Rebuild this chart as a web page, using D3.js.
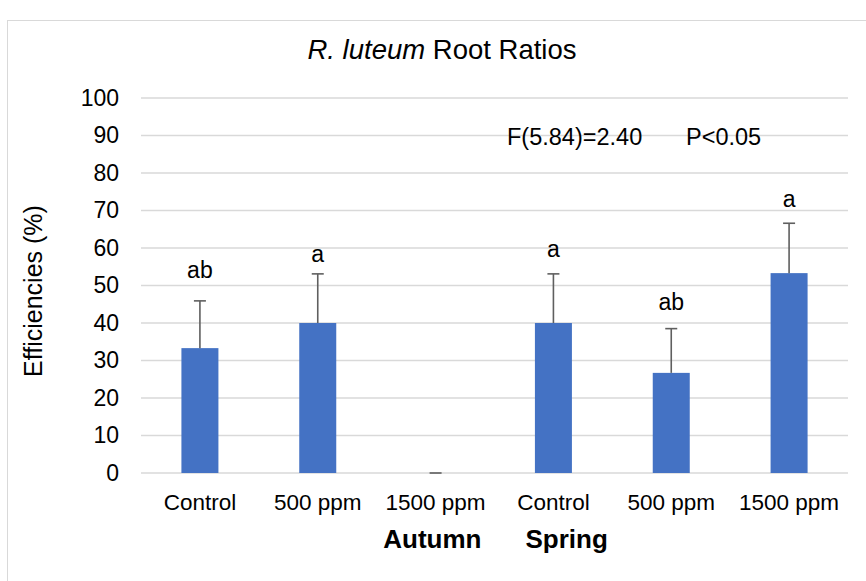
<!DOCTYPE html>
<html>
<head>
<meta charset="utf-8">
<script src="https://cdn.jsdelivr.net/npm/d3@7"></script>
<style>
  body { margin: 0; background: #fff; }
  text { font-family: "Liberation Sans", Arial, sans-serif; fill: #000; }
</style>
</head>
<body>
<div id="chart"></div>
<script>
// values
const categories = ["Control", "500 ppm", "1500 ppm", "Control", "500 ppm", "1500 ppm"];
const values = [33.3, 40, 0, 40, 26.7, 53.3];
const errors = [12.6, 13.1, 0, 13.1, 11.8, 13.3];
const letters = ["ab", "a", "", "a", "ab", "a"];
const letterLevels = [52.1, 56.3, 0, 57.5, 43.5, 70.9]; // baseline of letters, in % units
const yTicks = d3.range(0, 101, 10);
const groupLabels = ["Autumn", "Spring"];

const width = 866, height = 581;
const margin = { top: 98, right: 18, bottom: 108, left: 141 };

const svg = d3.select("#chart").append("svg")
  .attr("width", width)
  .attr("height", height);

// chart border
svg.append("rect")
  .attr("x", 7.5).attr("y", 20.5)
  .attr("width", 880).attr("height", 600)
  .attr("fill", "none")
  .attr("stroke", "#d9d9d9")
  .attr("stroke-width", 1);

const x = d3.scaleBand()
  .domain(d3.range(categories.length))
  .range([margin.left, width - margin.right])
  .paddingInner(0.686)
  .paddingOuter(0.343);

const y = d3.scaleLinear()
  .domain([0, 100])
  .range([height - margin.bottom, margin.top]);

// gridlines
svg.append("g")
  .selectAll("line")
  .data(yTicks)
  .enter().append("line")
  .attr("x1", margin.left).attr("x2", width - margin.right)
  .attr("y1", d => y(d)).attr("y2", d => y(d))
  .attr("stroke", "#d9d9d9")
  .attr("stroke-width", 1.3);

// y axis labels
const yAxis = svg.append("g")
  .attr("transform", "translate(" + (margin.left - 22) + ",0)")
  .call(d3.axisLeft(y).tickValues(yTicks).tickSize(0).tickPadding(0));
yAxis.select(".domain").remove();
yAxis.selectAll("text")
  .style("font-family", "Liberation Sans, Arial, sans-serif")
  .style("font-size", "23px")
  .attr("fill", "#000");

// bars
svg.append("g")
  .selectAll("rect")
  .data(values)
  .enter().append("rect")
  .attr("x", (d, i) => x(i))
  .attr("y", d => y(d))
  .attr("width", x.bandwidth())
  .attr("height", d => y(0) - y(d))
  .attr("fill", "#4472c4");

// error bars (upper only)
const err = svg.append("g")
  .attr("stroke", "#5f5f5f")
  .attr("stroke-width", 1.6);
values.forEach((v, i) => {
  const cx = x(i) + x.bandwidth() / 2;
  err.append("line")
    .attr("x1", cx).attr("x2", cx)
    .attr("y1", y(v)).attr("y2", y(v + errors[i]));
  err.append("line")
    .attr("x1", cx - 6).attr("x2", cx + 6)
    .attr("y1", y(v + errors[i])).attr("y2", y(v + errors[i]));
});

// significance letters
svg.append("g")
  .selectAll("text")
  .data(letters)
  .enter().append("text")
  .attr("x", (d, i) => x(i) + x.bandwidth() / 2)
  .attr("y", (d, i) => y(letterLevels[i]))
  .attr("text-anchor", "middle")
  .style("font-size", "23px")
  .text(d => d);

// x category labels
svg.append("g")
  .selectAll("text")
  .data(categories)
  .enter().append("text")
  .attr("x", (d, i) => x(i) + x.bandwidth() / 2)
  .attr("y", 510)
  .attr("text-anchor", "middle")
  .style("font-size", "22.5px")
  .text(d => d);

// season labels
const midX = (margin.left + width - margin.right) / 2;
svg.append("text")
  .attr("x", midX - 13).attr("y", 548)
  .attr("text-anchor", "end")
  .style("font-size", "26px").style("font-weight", "bold")
  .text(groupLabels[0]);
svg.append("text")
  .attr("x", midX + 31).attr("y", 548)
  .attr("text-anchor", "start")
  .style("font-size", "26px").style("font-weight", "bold")
  .text(groupLabels[1]);

// statistics annotation
svg.append("text")
  .attr("x", 507).attr("y", 145)
  .style("font-size", "23.5px")
  .text("F(5.84)=2.40");
svg.append("text")
  .attr("x", 686).attr("y", 145)
  .style("font-size", "23.5px")
  .text("P<0.05");

// title
const title = svg.append("text")
  .attr("x", 442).attr("y", 59)
  .attr("text-anchor", "middle")
  .style("font-size", "27.5px");
title.append("tspan").style("font-style", "italic").text("R. luteum");
title.append("tspan").text(" Root Ratios");

// y axis title
svg.append("text")
  .attr("transform", "translate(42," + 291 + ") rotate(-90)")
  .attr("text-anchor", "middle")
  .style("font-size", "25px")
  .text("Efficiencies (%)");
</script>
</body>
</html>
